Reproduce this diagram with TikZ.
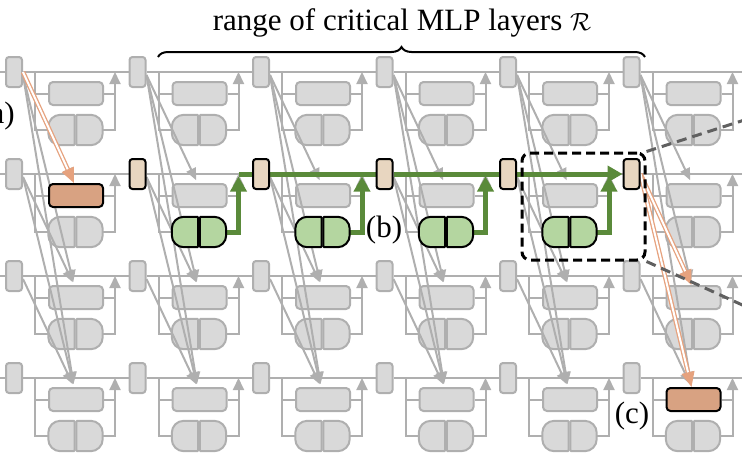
\documentclass[tikz,border=0pt]{standalone}
\usepackage{fontspec}
\setmainfont{Liberation Serif}
\usetikzlibrary{arrows.meta,decorations.pathreplacing}

\definecolor{cellfill}{HTML}{D9D9D9}
\definecolor{cellline}{HTML}{AFAFAF}
\definecolor{statetan}{HTML}{E8D6C0}
\definecolor{attnorange}{HTML}{D8A282}
\definecolor{mlpgreen}{HTML}{B4D6A0}
\definecolor{pathgreen}{HTML}{5A8A3A}
\definecolor{floworange}{HTML}{E6A27E}
\definecolor{zoomgray}{HTML}{606060}

\pgfdeclarelayer{front}
\pgfsetlayers{main,front}

\tikzstyle{state}=[draw=cellline,fill=cellfill,line width=2pt,rounded corners=3pt,minimum width=16pt,minimum height=30pt,inner sep=0pt]
\tikzstyle{state on}=[state,draw=black,fill=statetan]
\tikzstyle{attn}=[draw=cellline,fill=cellfill,line width=2pt,rounded corners=4pt,minimum width=54pt,minimum height=23pt,inner sep=0pt]
\tikzstyle{attn on}=[attn,draw=black,fill=attnorange]
\tikzstyle{half}=[minimum width=26pt,minimum height=30pt,inner sep=0pt]
\tikzstyle{half on}=[half]
\tikzstyle{mlp}=[draw=cellline,fill=cellfill,line width=2pt]
\tikzstyle{mlp on}=[mlp,draw=black,fill=mlpgreen]
\tikzstyle{wire}=[draw=cellline,line width=2pt]
\tikzstyle{wire up}=[wire,-{Triangle[length=12pt,width=11pt]}]
\tikzstyle{read}=[wire,-{Triangle[length=12pt,width=10pt]},shorten >=3pt]
\tikzstyle{green line}=[draw=pathgreen,line width=5pt]
\tikzstyle{green up}=[green line,-{Triangle[length=15pt,width=16pt]},shorten >=2.5pt]
\tikzstyle{flow}=[draw=floworange,line width=1.3pt,double=white,double distance=2pt,-{Triangle[length=15pt,width=13pt]}]
\tikzstyle{focus}=[draw=black,line width=3pt,dash pattern=on 9pt off 5pt,rounded corners=8pt,minimum width=123pt,minimum height=107pt]
\tikzstyle{zoom line}=[draw=zoomgray,line width=3pt,dash pattern=on 10pt off 6pt]
\tikzstyle{range brace}=[draw=black,line width=2pt,decorate,decoration={brace,amplitude=10pt}]
\tikzstyle{tag}=[font=\fontsize{31}{37}\selectfont,inner sep=0pt]

% gray node, or coloured node on the front layer
\newcommand\cellnode[4]{\ifnum#1=1 \begin{pgfonlayer}{front}\node[#2 on] (#3) at #4 {};\end{pgfonlayer}\else\node[#2] (#3) at #4 {};\fi}
\newcommand\mlphalves[2]{%
  \draw[#2] (ml#1.north east) [rounded corners=12pt] -- (ml#1.north west) -- (ml#1.south west) [rounded corners=1pt] -- (ml#1.south east) -- cycle;
  \draw[#2] (mr#1.north west) [rounded corners=12pt] -- (mr#1.north east) -- (mr#1.south east) [rounded corners=1pt] -- (mr#1.south west) -- cycle;}
\newcommand\mlpnode[2]{\ifnum#1=1 \begin{pgfonlayer}{front}\mlphalves{#2}{mlp on}\end{pgfonlayer}\else\mlphalves{#2}{mlp}\fi}

\begin{document}
\begin{tikzpicture}[x=1pt,y=-1pt]
\useasboundingbox (0,0) rectangle (742,464);
\clip (0,0) rectangle (742,464);

% one cell per token (row) and layer (col)
\foreach \col in {0,...,5}{
  \foreach \row in {0,...,3}{
    \pgfmathsetmacro\x{14+123.5*\col}
    \pgfmathsetmacro\y{72+102*\row}
    \def\hon{0}\def\aon{0}\def\mon{0}
    \ifnum\row=1 \ifnum\col>0 \def\hon{1}\ifnum\col<5 \def\mon{1}\fi\fi\fi
    \ifnum\row=1 \ifnum\col=0 \def\aon{1}\fi\fi
    \ifnum\row=3 \ifnum\col=5 \def\aon{1}\fi\fi
    \cellnode{\hon}{state}{h\row\col}{(\x,\y)}
    \cellnode{\aon}{attn}{a\row\col}{(\x+62,\y+21.5)}
    \cellnode{\mon}{half}{ml\row\col}{(\x+47.5,\y+58)}
    \cellnode{\mon}{half}{mr\row\col}{(\x+75.5,\y+58)}
    \mlpnode{\mon}{\row\col}
    \coordinate (j\row\col) at (\x+21,\y);
    \coordinate (o\row\col) at (\x+101,\y);
  }
}
\foreach \row in {0,...,3}{
  \coordinate (lft\row) at (-20,72+102*\row);
  \coordinate (rgt\row) at (760,72+102*\row);
  \draw[wire] (lft\row) -- (h\row0.west);
}

% residual stream and sublayer wires
\foreach \col in {0,...,5}{
  \foreach \row in {0,...,3}{
    \pgfmathtruncatemacro\nxt{\col+1}
    \ifnum\col<5 \draw[wire] (h\row\col.east) -- (h\row\nxt.west);
    \else \draw[wire] (h\row\col.east) -- (rgt\row); \fi
    \draw[wire] (j\row\col) |- (ml\row\col.west);
    \draw[wire] (j\row\col |- a\row\col.west) -- (a\row\col.west);
    \draw[wire] (a\row\col.east) -- (a\row\col.east -| o\row\col);
    \draw[wire up] (mr\row\col.east) -| (o\row\col);
  }
}

% attention reads from earlier tokens
\foreach \col in {0,...,5}
  \foreach \src/\dst in {0/1,0/2,0/3,1/2,1/3,2/3}
    \draw[read] ([yshift=-3pt]h\src\col.east) -- ([xshift=-2pt]a\dst\col.north);

\draw[flow] (h00.east) -- ([xshift=-2pt]a10.north);
\draw[flow] (h15.east) -- ([xshift=-2pt]a25.north);
\draw[flow] (h15.east) -- ([xshift=-2pt]a35.north);

% critical mlp path
\draw[green up] (mr11.east) -| (o11);
\draw[green line] (o11) -- (h12.west);
\foreach \col/\nxt in {2/3,3/4}{
  \draw[green up] (mr1\col.east) -| (o1\col);
  \draw[green line] (h1\col.east) -- (h1\nxt.west);
}
\draw[green up] (mr14.east) -| (o14);
\draw[green line,-{Triangle[length=15pt,width=16pt]}] (h14.east) -- (h15.west);

\node[focus] (fbox) at (583.5,206.5) {};
\coordinate (zt) at (760,115);
\coordinate (zb) at (760,313);
\draw[zoom line] (fbox.north east) -- (zt);
\draw[zoom line] (fbox.south east) -- (zb);

\node[tag,anchor=east] (lbla) at (15,116) {(a)};
\node[tag] (lblb) at (384,230) {(b)};
\node[tag] (lblc) at (632,416) {(c)};

\coordinate (bl) at (158,57);
\coordinate (br) at (645,57);
\draw[range brace] (bl) -- (br);
\node[tag,anchor=base] (title) at (402,30) {range of critical MLP layers $\mathcal{R}$};
\end{tikzpicture}
\end{document}
